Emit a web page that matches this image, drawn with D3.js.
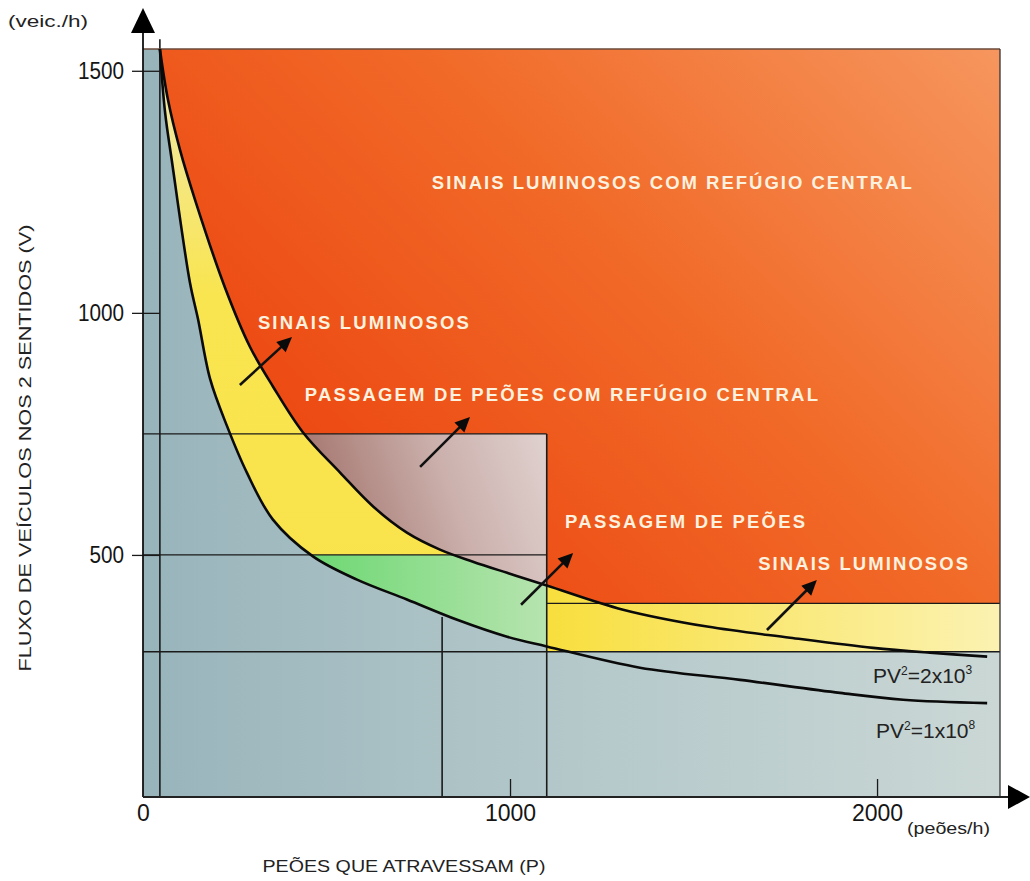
<!DOCTYPE html>
<html><head><meta charset="utf-8">
<script src="https://cdn.jsdelivr.net/npm/d3@7"></script>
<style>body{margin:0;background:#fff}svg{display:block}</style>
</head><body>
<svg id="c" width="1030" height="881"></svg>
<script>
// ---------------- data ----------------
const pMax = 2335, vMax = 1545;
// curve PV^2 = 2x10^8 (upper boundary)
const upperP = [46, 68, 101, 142, 223, 292, 354, 436, 537, 627, 719, 809, 899, 992, 1100, 1308, 1537, 1763, 1989, 2144, 2300];
const upperV = [1545, 1440, 1336, 1233, 1053, 929, 848, 753, 670, 600, 546, 511, 486, 463, 437, 387, 352, 329, 308, 298, 290];
// curve PV^2 = 1x10^8 (lower boundary)
const lowerP = [46, 60, 79, 128, 150, 183, 229, 283, 354, 463, 583, 719, 856, 992, 1100, 1354, 1627, 1899, 2071, 2300];
const lowerV = [1545, 1415, 1312, 1062, 987, 863, 766, 670, 573, 497, 449, 408, 366, 331, 311, 267, 242, 215, 201, 194];
// reference lines (data units)
const hLineV  = [750, 500, 300, 400];
const hLineP0 = [0, 0, 0, 1100];
const hLineP1 = [1100, 1100, pMax, pMax];
const vLineP  = [1100, 815, 46];
const vLineV0 = [0, 0, 0];
const vLineV1 = [750, 372, 1565];
// axis ticks
const xTicks = [0, 1000, 2000];
const yTicks = [500, 1000, 1500];
// region labels
const labelText = ["SINAIS LUMINOSOS COM REFÚGIO CENTRAL", "SINAIS LUMINOSOS",
  "PASSAGEM DE PEÕES COM REFÚGIO CENTRAL", "PASSAGEM DE PEÕES", "SINAIS LUMINOSOS"];
const labelP0 = [787, 313, 441, 1150, 1676];
const labelP1 = [2095, 888, 1839, 1804, 2248];
const labelV  = [1270, 981, 832, 570, 483];
// arrows (start -> tip)
const arrowP0 = [264, 755, 1030, 1700];
const arrowV0 = [851, 682, 397, 345];
const arrowP1 = [406, 891, 1172, 1836];
const arrowV1 = [950, 785, 504, 448];

// ---------------- drawing ----------------
const svg = d3.select("#c");
const x = d3.scaleLinear().domain([0, pMax]).range([143, 1000]);
const y = d3.scaleLinear().domain([0, vMax]).range([797, 49]);
const upper = upperP.map((p, i) => ({p, v: upperV[i]}));
const lower = lowerP.map((p, i) => ({p, v: lowerV[i]}));
const upperExt = upper.concat([{p: pMax, v: upperV[upperV.length - 1]}]);
const lowerExt = lower.concat([{p: pMax, v: lowerV[lowerV.length - 1]}]);

const defs = svg.append("defs");
function lin(id, x1, y1, x2, y2, stops) {
  const g = defs.append("linearGradient").attr("id", id).attr("gradientUnits", "userSpaceOnUse")
    .attr("x1", x1).attr("y1", y1).attr("x2", x2).attr("y2", y2);
  stops.forEach(s => g.append("stop").attr("offset", s[0]).attr("stop-color", s[1]));
}
lin("gBg", 143, 0, 1000, 0, [[0, "#98b4bb"], [0.5, "#b4c8ca"], [1, "#cad7d5"]]);
lin("gOr", 420, 620, 1000, 49, [[0, "#ec4610"], [0.5, "#f16a28"], [1, "#f6965e"]]);
lin("gYl", 0, 49, 0, 797, [[0, "#f1e9b4"], [0.33, "#f9e54f"], [1, "#f9e24a"]]);
lin("gYr", 550, 0, 1000, 0, [[0, "#f8df3e"], [1, "#fbf2b2"]]);
lin("gPk", 300, 520, 560, 430, [[0, "#9e6c64"], [0.55, "#cbb0ac"], [1, "#e3d6d4"]]);
lin("gGr", 313, 0, 550, 0, [[0, "#6ed873"], [1, "#b8e4b0"]]);

const curveT = d3.curveCatmullRom.alpha(0.5);
const areaAbove = d3.area().x(d => x(d.p)).y0(y(vMax)).y1(d => y(d.v)).curve(curveT);
const areaBelow = d3.area().x(d => x(d.p)).y0(y(0)).y1(d => y(d.v)).curve(curveT);
defs.append("clipPath").attr("id", "cAboveU").append("path").attr("d", areaAbove(upperExt));
defs.append("clipPath").attr("id", "cBelowU").append("path").attr("d", areaBelow(upperExt));
defs.append("clipPath").attr("id", "cAboveL").append("path").attr("d", areaAbove(lowerExt));

function rectV(g, p0, p1, v0, v1, fill) {
  return g.append("rect").attr("x", x(p0)).attr("width", x(p1) - x(p0))
    .attr("y", y(v1)).attr("height", y(v0) - y(v1)).attr("fill", fill);
}
// background
rectV(svg, 0, pMax, 0, vMax, "url(#gBg)");
// orange above upper curve
rectV(svg.append("g").attr("clip-path", "url(#cAboveU)"), 0, pMax, 0, vMax, "url(#gOr)");
// pink box
rectV(svg.append("g").attr("clip-path", "url(#cAboveU)"), 0, 1100, 0, 750, "url(#gPk)");
// yellow & green between curves
const between = svg.append("g").attr("clip-path", "url(#cBelowU)").append("g").attr("clip-path", "url(#cAboveL)");
rectV(between, 0, 1100, 0, vMax, "url(#gYl)");
rectV(between, 0, 1100, 0, 500, "url(#gGr)");
// yellow right band
rectV(svg, 1100, pMax, 300, 400, "url(#gYr)");
rectV(svg.append("g").attr("clip-path", "url(#cBelowU)"), 1100, pMax, 300, vMax, "url(#gYr)");
rectV(svg, 1100, pMax, 0, 300, "url(#gBg)");

// reference lines
hLineV.forEach((v, i) => svg.append("line").attr("x1", x(hLineP0[i])).attr("x2", x(hLineP1[i]))
  .attr("y1", y(v)).attr("y2", y(v)).attr("stroke", "#1a1a1a").attr("stroke-width", 1.3));
vLineP.forEach((p, i) => svg.append("line").attr("x1", x(p)).attr("x2", x(p))
  .attr("y1", y(vLineV0[i])).attr("y2", y(vLineV1[i])).attr("stroke", "#1a1a1a").attr("stroke-width", 1.6));
// frame top/right
svg.append("line").attr("x1", x(0)).attr("x2", x(pMax)).attr("y1", y(vMax)).attr("y2", y(vMax))
  .attr("stroke", "#6b4a3a").attr("stroke-width", 1.3);
svg.append("line").attr("x1", x(pMax)).attr("x2", x(pMax)).attr("y1", y(vMax)).attr("y2", y(0))
  .attr("stroke", "#333").attr("stroke-width", 1.3);

// curves
const line = d3.line().x(d => x(d.p)).y(d => y(d.v)).curve(curveT);
[upper, lower].forEach(c => svg.append("path").attr("d", line(c)).attr("fill", "none")
  .attr("stroke", "#0a0a0a").attr("stroke-width", 2.6));

// axes
const fontF = "'Liberation Sans', Arial, sans-serif";
const yAx = svg.append("g").attr("transform", `translate(${x(0)},0)`)
  .call(d3.axisLeft(y).tickValues(yTicks).tickSize(11).tickPadding(6).tickFormat(d3.format("d")));
yAx.select(".domain").remove();
yAx.selectAll(".tick line").attr("stroke", "#1a1a1a").attr("stroke-width", 1.3).attr("x2", -11).attr("x1", x(46) - x(0));
yAx.selectAll(".tick text").attr("font-family", fontF).attr("font-size", 23).attr("fill", "#151515")
  .attr("transform", "scale(0.9,1)").attr("x", -19 / 0.9);
const xAx = svg.append("g").attr("transform", `translate(0,${y(0)})`)
  .call(d3.axisBottom(x).tickValues(xTicks).tickSizeInner(-18).tickSizeOuter(0).tickPadding(8).tickFormat(d3.format("d")));
xAx.select(".domain").remove();
xAx.selectAll(".tick line").attr("stroke", "#1a1a1a").attr("stroke-width", 1.3).filter(d => d === 0).remove();
xAx.selectAll(".tick text").attr("font-family", fontF).attr("font-size", 23).attr("fill", "#151515");

// axis lines & arrows
svg.append("line").attr("x1", x(0)).attr("x2", x(0)).attr("y1", 30).attr("y2", y(0)).attr("stroke", "#111").attr("stroke-width", 1.8);
svg.append("line").attr("x1", x(0)).attr("x2", 1012).attr("y1", y(0)).attr("y2", y(0)).attr("stroke", "#222").attr("stroke-width", 1.8);
svg.append("path").attr("d", `M${x(0)},8L${x(0) + 12},33L${x(0) - 12},33Z`).attr("fill", "#000");
svg.append("path").attr("d", `M1030,${y(0)}L1008,${y(0) - 12}L1008,${y(0) + 12}Z`).attr("fill", "#000");

// titles
svg.append("text").attr("x", 8).attr("y", 27).text("(veic./h)").attr("font-family", fontF)
  .attr("font-size", 16).attr("fill", "#222").attr("textLength", 80).attr("lengthAdjust", "spacingAndGlyphs");
svg.append("text").attr("x", 907).attr("y", 834).text("(peões/h)").attr("font-family", fontF)
  .attr("font-size", 16).attr("fill", "#222").attr("textLength", 83).attr("lengthAdjust", "spacingAndGlyphs");
svg.append("text").attr("x", 404).attr("y", 872).attr("text-anchor", "middle").text("PEÕES QUE ATRAVESSAM (P)")
  .attr("font-family", fontF).attr("font-size", 17).attr("fill", "#222").attr("textLength", 283).attr("lengthAdjust", "spacingAndGlyphs");
svg.append("text").attr("transform", "translate(31,448) rotate(-90)").attr("text-anchor", "middle")
  .text("FLUXO DE VEÍCULOS NOS 2 SENTIDOS (V)").attr("font-family", fontF).attr("font-size", 17)
  .attr("fill", "#222").attr("textLength", 447).attr("lengthAdjust", "spacingAndGlyphs");

// PV labels
function pvLabel(px, py, a, b) {
  const t = svg.append("text").attr("x", px).attr("y", py).attr("font-family", fontF).attr("font-size", 21).attr("fill", "#222");
  t.append("tspan").text("PV");
  t.append("tspan").text("2").attr("font-size", 12).attr("dy", -8);
  t.append("tspan").text("=" + a + "x10").attr("dy", 8);
  t.append("tspan").text(b).attr("font-size", 12).attr("dy", -9);
}
pvLabel(873, 683, "2", "3");
pvLabel(876, 738, "1", "8");

// region labels
labelText.forEach((s, i) => svg.append("text").attr("x", x(labelP0[i])).attr("y", y(labelV[i]))
  .attr("dominant-baseline", "central").text(s).attr("font-family", fontF).attr("font-weight", "bold")
  .attr("font-size", 18.5).attr("fill", "#fdf1df").attr("textLength", x(labelP1[i]) - x(labelP0[i]))
  .attr("lengthAdjust", "spacing"));

// arrows
arrowP0.forEach((p, i) => {
  const x0 = x(p), y0 = y(arrowV0[i]), x1 = x(arrowP1[i]), y1 = y(arrowV1[i]);
  const dx = x1 - x0, dy = y1 - y0, L = Math.hypot(dx, dy), ux = dx / L, uy = dy / L;
  const hl = 15, hw = 7;
  const bx = x1 - ux * hl, by = y1 - uy * hl;
  svg.append("line").attr("x1", x0).attr("y1", y0).attr("x2", bx + ux * 2).attr("y2", by + uy * 2)
    .attr("stroke", "#111").attr("stroke-width", 2.6);
  svg.append("path").attr("d", `M${x1},${y1}L${bx - uy * hw},${by + ux * hw}L${bx + uy * hw},${by - ux * hw}Z`).attr("fill", "#0a0a0a");
});
</script>
</body></html>
